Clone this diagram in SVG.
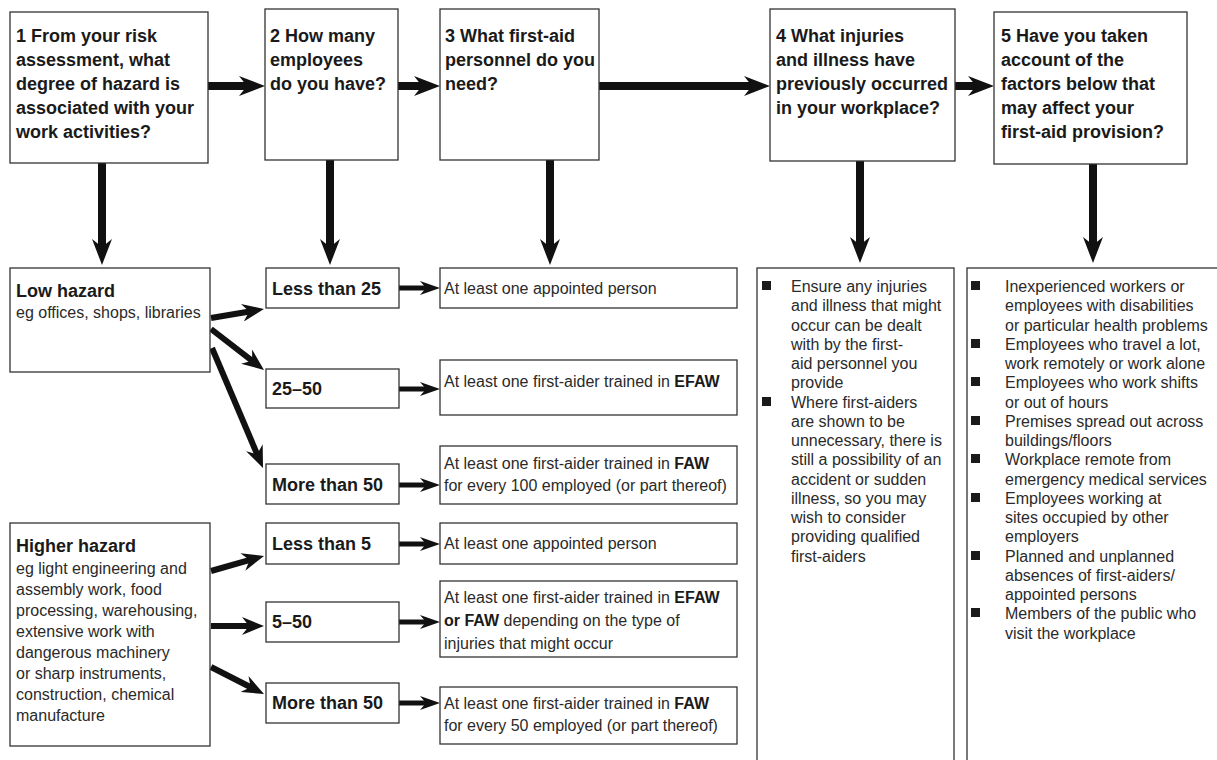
<svg xmlns="http://www.w3.org/2000/svg" width="1217" height="760" viewBox="0 0 1217 760">
<defs>
<style>
.box{fill:#fff;stroke:#333;stroke-width:1.3}
.hd{font-family:"Liberation Sans",Arial,sans-serif;font-weight:bold;font-size:18px;fill:#1a1a1a}
.bd{font-family:"Liberation Sans",Arial,sans-serif;font-size:16px;fill:#2a2a2a}
.b{font-weight:bold;fill:#1a1a1a}
.big{stroke:#111;stroke-width:8;fill:none;marker-end:url(#mBig)}
.mid{stroke:#111;stroke-width:6;fill:none;marker-end:url(#mMid)}
.sml{stroke:#111;stroke-width:5;fill:none;marker-end:url(#mSml)}
.bul{fill:#1a1a1a}
</style>
<marker id="mBig" markerUnits="userSpaceOnUse" markerWidth="26" markerHeight="20" viewBox="0 0 26 20" refX="14" refY="10" orient="auto"><path d="M0,0 L26,10 L0,20 L8,10 Z" fill="#111"/></marker>
<marker id="mMid" markerUnits="userSpaceOnUse" markerWidth="22" markerHeight="18" viewBox="0 0 22 18" refX="12" refY="9" orient="auto"><path d="M0,0 L22,9 L0,18 L7,9 Z" fill="#111"/></marker>
<marker id="mSml" markerUnits="userSpaceOnUse" markerWidth="20" markerHeight="14" viewBox="0 0 20 14" refX="11" refY="7" orient="auto"><path d="M0,0 L20,7 L0,14 L6,7 Z" fill="#111"/></marker>
</defs>
<rect width="1217" height="760" fill="#fff"/>

<g id="connectors">
<line class="big" x1="208" y1="86" x2="253" y2="86"/>
<line class="big" x1="398" y1="86" x2="428" y2="86"/>
<line class="big" x1="599" y1="86" x2="758" y2="86"/>
<line class="big" x1="955" y1="86" x2="982" y2="86"/>
<line class="big" x1="102" y1="163" x2="102" y2="253"/>
<line class="big" x1="330" y1="160" x2="330" y2="253"/>
<line class="big" x1="550" y1="160" x2="550" y2="253"/>
<line class="big" x1="860" y1="161" x2="860" y2="251"/>
<line class="big" x1="1093" y1="164" x2="1093" y2="251"/>
<line class="mid" x1="211" y1="318" x2="254.1" y2="310.7"/>
<line class="mid" x1="211" y1="329" x2="256.1" y2="363.9"/>
<line class="mid" x1="212" y1="348" x2="259.1" y2="458.8"/>
<line class="mid" x1="211" y1="571" x2="254.4" y2="558.7"/>
<line class="mid" x1="211" y1="626" x2="254" y2="626"/>
<line class="mid" x1="211" y1="667" x2="255.1" y2="689.5"/>
<line class="sml" x1="399" y1="288" x2="431" y2="288"/>
<line class="sml" x1="399" y1="389" x2="431" y2="389"/>
<line class="sml" x1="399" y1="485" x2="431" y2="485"/>
<line class="sml" x1="399" y1="544" x2="431" y2="544"/>
<line class="sml" x1="399" y1="622" x2="431" y2="622"/>
<line class="sml" x1="399" y1="703" x2="431" y2="703"/>
</g>

<g id="q1">
<rect class="box" x="10" y="12" width="198" height="151"/>
<text class="hd"><tspan x="16" y="42">1 From your risk</tspan><tspan x="16" y="66">assessment, what</tspan><tspan x="16" y="90">degree of hazard is</tspan><tspan x="16" y="114">associated with your</tspan><tspan x="16" y="138">work activities?</tspan></text>
</g>
<g id="q2">
<rect class="box" x="265" y="9" width="133" height="151"/>
<text class="hd"><tspan x="270" y="42">2 How many</tspan><tspan x="270" y="66">employees</tspan><tspan x="270" y="90">do you have?</tspan></text>
</g>
<g id="q3">
<rect class="box" x="440" y="9" width="159" height="151"/>
<text class="hd"><tspan x="445" y="42">3 What first-aid</tspan><tspan x="445" y="66">personnel do you</tspan><tspan x="445" y="90">need?</tspan></text>
</g>
<g id="q4">
<rect class="box" x="770" y="9" width="185" height="152"/>
<text class="hd"><tspan x="776" y="42">4 What injuries</tspan><tspan x="776" y="66">and illness have</tspan><tspan x="776" y="90">previously occurred</tspan><tspan x="776" y="114">in your workplace?</tspan></text>
</g>
<g id="q5">
<rect class="box" x="994" y="12" width="193" height="152"/>
<text class="hd"><tspan x="1001" y="42">5 Have you taken</tspan><tspan x="1001" y="66">account of the</tspan><tspan x="1001" y="90">factors below that</tspan><tspan x="1001" y="114">may affect your</tspan><tspan x="1001" y="138">first-aid provision?</tspan></text>
</g>

<g id="low-hazard">
<rect class="box" x="10" y="268" width="200" height="104"/>
<text class="hd" x="16" y="297">Low hazard</text>
<text class="bd" x="16" y="318">eg offices, shops, libraries</text>
</g>
<g id="low-lt25">
<rect class="box" x="266" y="268" width="133" height="40"/>
<text class="hd" x="272" y="295">Less than 25</text>
</g>
<g id="low-25-50">
<rect class="box" x="266" y="369" width="133" height="39"/>
<text class="hd" x="272" y="395">25–50</text>
</g>
<g id="low-gt50">
<rect class="box" x="266" y="464" width="133" height="40"/>
<text class="hd" x="272" y="491">More than 50</text>
</g>
<g id="low-r1">
<rect class="box" x="440" y="268" width="297" height="40"/>
<text class="bd" x="444" y="294">At least one appointed person</text>
</g>
<g id="low-r2">
<rect class="box" x="440" y="360" width="297" height="55"/>
<text class="bd" x="444" y="387">At least one first-aider trained in <tspan class="b">EFAW</tspan></text>
</g>
<g id="low-r3">
<rect class="box" x="440" y="446" width="297" height="58"/>
<text class="bd"><tspan x="444" y="469">At least one first-aider trained in <tspan class="b">FAW</tspan></tspan><tspan x="444" y="491">for every 100 employed (or part thereof)</tspan></text>
</g>

<g id="higher-hazard">
<rect class="box" x="10" y="523" width="200" height="223"/>
<text class="hd" x="16" y="552">Higher hazard</text>
<text class="bd"><tspan x="16" y="574">eg light engineering and</tspan><tspan x="16" y="595">assembly work, food</tspan><tspan x="16" y="616">processing, warehousing,</tspan><tspan x="16" y="637">extensive work with</tspan><tspan x="16" y="658">dangerous machinery</tspan><tspan x="16" y="679">or sharp instruments,</tspan><tspan x="16" y="700">construction, chemical</tspan><tspan x="16" y="721">manufacture</tspan></text>
</g>
<g id="high-lt5">
<rect class="box" x="266" y="523" width="133" height="41"/>
<text class="hd" x="272" y="550">Less than 5</text>
</g>
<g id="high-5-50">
<rect class="box" x="266" y="602" width="133" height="40"/>
<text class="hd" x="272" y="628">5–50</text>
</g>
<g id="high-gt50">
<rect class="box" x="266" y="683" width="133" height="40"/>
<text class="hd" x="272" y="709">More than 50</text>
</g>
<g id="high-r1">
<rect class="box" x="440" y="523" width="297" height="41"/>
<text class="bd" x="444" y="549">At least one appointed person</text>
</g>
<g id="high-r2">
<rect class="box" x="440" y="581" width="297" height="76"/>
<text class="bd"><tspan x="444" y="603">At least one first-aider trained in <tspan class="b">EFAW</tspan></tspan><tspan x="444" y="626"><tspan class="b">or FAW</tspan> depending on the type of</tspan><tspan x="444" y="649">injuries that might occur</tspan></text>
</g>
<g id="high-r3">
<rect class="box" x="440" y="687" width="297" height="57"/>
<text class="bd"><tspan x="444" y="709">At least one first-aider trained in <tspan class="b">FAW</tspan></tspan><tspan x="444" y="731">for every 50 employed (or part thereof)</tspan></text>
</g>

<g id="col4">
<rect class="box" x="757" y="268" width="197" height="500"/>
<rect class="bul" x="762" y="281" width="9" height="9"/>
<rect class="bul" x="762" y="397" width="9" height="9"/>
<text class="bd"><tspan x="791" y="292">Ensure any injuries</tspan><tspan x="791" y="311">and illness that might</tspan><tspan x="791" y="331">occur can be dealt</tspan><tspan x="791" y="350">with by the first-</tspan><tspan x="791" y="369">aid personnel you</tspan><tspan x="791" y="388">provide</tspan><tspan x="791" y="408">Where first-aiders</tspan><tspan x="791" y="427">are shown to be</tspan><tspan x="791" y="446">unnecessary, there is</tspan><tspan x="791" y="465">still a possibility of an</tspan><tspan x="791" y="485">accident or sudden</tspan><tspan x="791" y="504">illness, so you may</tspan><tspan x="791" y="523">wish to consider</tspan><tspan x="791" y="542">providing qualified</tspan><tspan x="791" y="562">first-aiders</tspan></text>
</g>

<g id="col5">
<rect class="box" x="967" y="268" width="260" height="500"/>
<rect class="bul" x="971" y="281" width="9" height="9"/>
<rect class="bul" x="971" y="339" width="9" height="9"/>
<rect class="bul" x="971" y="377" width="9" height="9"/>
<rect class="bul" x="971" y="416" width="9" height="9"/>
<rect class="bul" x="971" y="454" width="9" height="9"/>
<rect class="bul" x="971" y="493" width="9" height="9"/>
<rect class="bul" x="971" y="551" width="9" height="9"/>
<rect class="bul" x="971" y="608" width="9" height="9"/>
<text class="bd"><tspan x="1005" y="292">Inexperienced workers or</tspan><tspan x="1005" y="311">employees with disabilities</tspan><tspan x="1005" y="331">or particular health problems</tspan><tspan x="1005" y="350">Employees who travel a lot,</tspan><tspan x="1005" y="369">work remotely or work alone</tspan><tspan x="1005" y="388">Employees who work shifts</tspan><tspan x="1005" y="408">or out of hours</tspan><tspan x="1005" y="427">Premises spread out across</tspan><tspan x="1005" y="446">buildings/floors</tspan><tspan x="1005" y="465">Workplace remote from</tspan><tspan x="1005" y="485">emergency medical services</tspan><tspan x="1005" y="504">Employees working at</tspan><tspan x="1005" y="523">sites occupied by other</tspan><tspan x="1005" y="542">employers</tspan><tspan x="1005" y="562">Planned and unplanned</tspan><tspan x="1005" y="581">absences of first-aiders/</tspan><tspan x="1005" y="600">appointed persons</tspan><tspan x="1005" y="619">Members of the public who</tspan><tspan x="1005" y="639">visit the workplace</tspan></text>
</g>
</svg>
